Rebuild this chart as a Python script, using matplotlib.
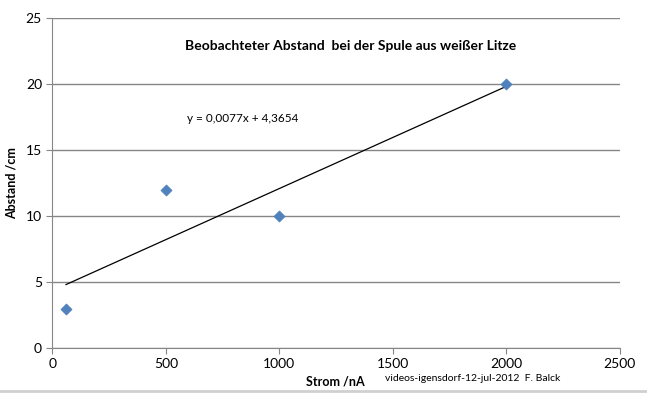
import matplotlib
matplotlib.use("Agg")
import matplotlib.pyplot as plt
from matplotlib.lines import Line2D
import numpy as np

# measured values
strom_na = [60, 500, 1000, 2000]
abstand_cm = [3, 12, 10, 20]
x_ticks = [0, 500, 1000, 1500, 2000, 2500]
y_ticks = [0, 5, 10, 15, 20, 25]

plt.rcParams["font.family"] = ["Lato", "DejaVu Sans"]

fig = plt.figure(figsize=(6.47, 3.93), dpi=100)
ax = fig.add_axes([0.081, 0.1137, 0.8765, 0.8397])

# linear trend line, like Excel's
slope, intercept = np.polyfit(strom_na, abstand_cm, 1)
xs = np.array([min(strom_na), max(strom_na)])
ax.plot(xs, slope * xs + intercept, color="black", lw=0.9, zorder=2)

ax.scatter(strom_na, abstand_cm, marker="D", s=32, color="#4F81BD",
           edgecolors="#4F81BD", linewidths=0.5, zorder=3, clip_on=False)

ax.set_xlim(0, 2500)
ax.set_ylim(0, 25)
ax.set_xticks(x_ticks)
ax.set_yticks(y_ticks)
ax.yaxis.grid(True, color="#868686", lw=1)
ax.set_axisbelow(True)
for side in ("top", "right"):
    ax.spines[side].set_visible(False)
for side in ("left", "bottom"):
    ax.spines[side].set_color("#868686")
ax.tick_params(axis="both", colors="#868686", labelcolor="black",
               labelsize=10, length=4, direction="out")
ax.tick_params(axis="x", pad=3)

ax.set_title("Beobachteter Abstand  bei der Spule aus weißer Litze",
             fontsize=10, fontweight="bold", y=0.88, x=0.526)
ax.text(0.237, 0.685, f"y = {slope:.4f}x + {intercept:.4f}".replace(".", ","),
        transform=ax.transAxes, fontsize=8.5)
ax.set_ylabel("Abstand /cm", fontsize=9, fontweight="bold")
ax.yaxis.set_label_coords(-0.062, 0.5)
fig.text(0.518, 0.028, "Strom /nA", fontsize=9, fontweight="bold",
         ha="center", va="center")
fig.text(0.595, 0.037, "videos-igensdorf-12-jul-2012  F. Balck",
         fontsize=7.5, ha="left", va="center")

# bottom frame edge of the chart area
fig.add_artist(Line2D([0, 1], [0.004, 0.004], transform=fig.transFigure,
                      color="#d0d0d0", lw=2))

fig.savefig("out.png", dpi=100)
